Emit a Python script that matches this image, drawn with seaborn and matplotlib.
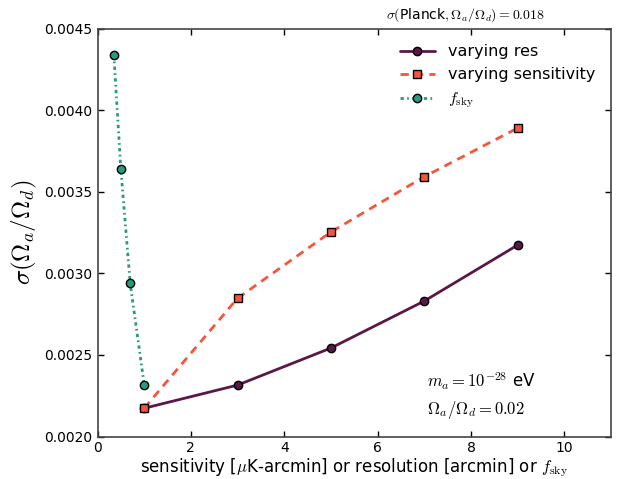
import matplotlib
matplotlib.use("Agg")
import matplotlib.pyplot as plt
import seaborn as sns
import pandas as pd

# data
res_x = [1, 3, 5, 7, 9]
res_y = [0.002173, 0.002315, 0.002542, 0.002830, 0.003173]
sens_x = [1, 3, 5, 7, 9]
sens_y = [0.002173, 0.002847, 0.003253, 0.003592, 0.003890]
fsky_x = [0.35, 0.5, 0.7, 1.0]
fsky_y = [0.004338, 0.003639, 0.002940, 0.002317]

sns.set_style("white")
plt.rcParams.update({
    "mathtext.fontset": "cm",
    "font.family": ["DejaVu Sans"],
    "text.color": "black",
    "axes.labelcolor": "black",
    "xtick.color": "black",
    "ytick.color": "black",
    "xtick.direction": "in",
    "ytick.direction": "in",
    "xtick.top": True,
    "ytick.right": True,
    "xtick.major.size": 4,
    "ytick.major.size": 4,
    "xtick.bottom": True,
    "ytick.left": True,
})

fig = plt.figure(figsize=(6.24, 4.79), dpi=100)
ax = fig.add_axes([97.5/624, 1-436.5/479, (611-97.5)/624, (436.5-28.5)/479])

c_res = "#5a1846"
c_sens = "#f5553a"
c_fsky = "#2a9a7e"

df_res = pd.DataFrame({"x": res_x, "y": res_y})
df_sens = pd.DataFrame({"x": sens_x, "y": sens_y})
df_fsky = pd.DataFrame({"x": fsky_x, "y": fsky_y})

sns.lineplot(data=df_res, x="x", y="y", ax=ax, color=c_res, lw=2, marker="o",
             markersize=6, markeredgecolor="black", markeredgewidth=1,
             label="varying res")
sns.lineplot(data=df_sens, x="x", y="y", ax=ax, color=c_sens, lw=2,
             dashes=False, marker="s", markersize=6, markeredgecolor="black",
             markeredgewidth=1, label="varying sensitivity")
sns.lineplot(data=df_fsky, x="x", y="y", ax=ax, color=c_fsky, lw=2,
             marker="o", markersize=6, markeredgecolor="black", markeredgewidth=1,
             label=r"$f_{\rm sky}$")

lines = ax.get_lines()
lines[1].set_linestyle((0, (3, 2.2)))
lines[2].set_linestyle((0, (1.2, 1.2, 0.6, 1.2)))

ax.set_xlim(0, 11)
ax.set_ylim(0.002, 0.0045)
ax.set_xticks([0, 2, 4, 6, 8, 10])
ax.set_yticks([0.0020, 0.0025, 0.0030, 0.0035, 0.0040, 0.0045])
ax.set_yticklabels(["0.0020", "0.0025", "0.0030", "0.0035", "0.0040", "0.0045"])
ax.tick_params(labelsize=10, width=1, length=4, color="black", labelcolor="black")
for s in ax.spines.values():
    s.set_color("#444444")
    s.set_linewidth(1.2)

ax.set_xlabel(r"sensitivity [$\mu$K-arcmin] or resolution [arcmin] or $f_{\rm sky}$",
              fontsize=12, labelpad=1, color="black")
ax.set_ylabel(r"$\sigma(\Omega_a/\Omega_d)$", fontsize=18, labelpad=4, color="black")

handles, labels = ax.get_legend_handles_labels()
handles[1].set_linestyle((0, (3, 2.2)))
handles[2].set_linestyle((0, (1.2, 1.2, 0.6, 1.2)))
leg = ax.legend(handles, labels, loc="upper right", frameon=False, fontsize=11.5,
                numpoints=1, handlelength=2.2, borderaxespad=0.6, labelcolor="black")

fig.text(545/624, 1-15/479, r"$\sigma($Planck$,\Omega_a/\Omega_d) = 0.018$",
         ha="right", va="center", fontsize=10, color="black")

ax.text(7.05, 0.00234, r"$m_a = 10^{-28}$ eV", fontsize=12, va="center", color="black")
ax.text(7.05, 0.002162, r"$\Omega_a/\Omega_d = 0.02$", fontsize=12, va="center", color="black")

fig.savefig("out.png", dpi=100)
